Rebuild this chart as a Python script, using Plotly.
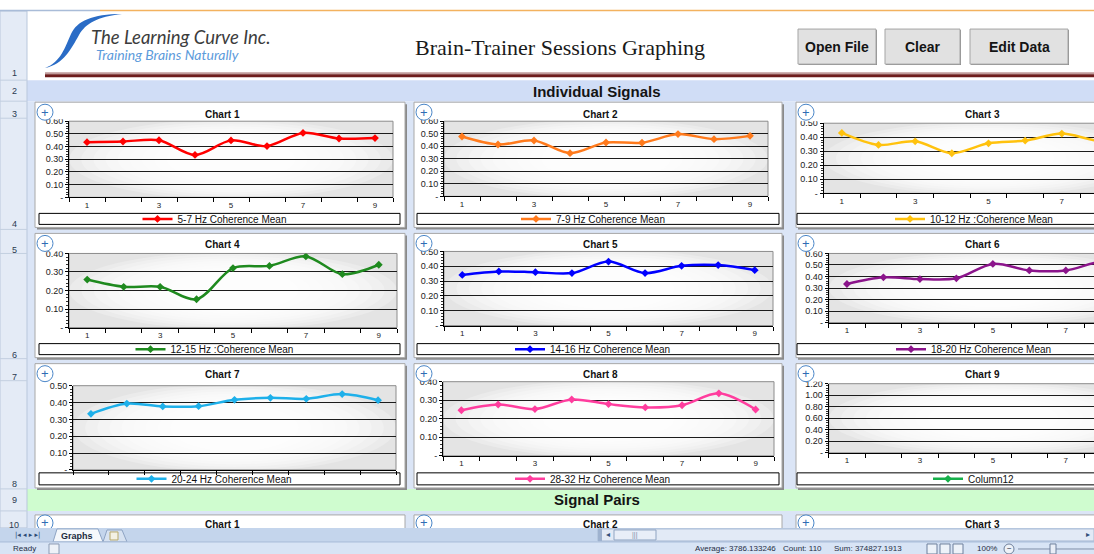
import plotly.graph_objects as go

W, H = 1094, 554
HF = 565          # rendered figure height (compensates vertical scaling of capture)
TOP_OFFSET = -5   # px

# ---------------- data ----------------
sessions = [1, 2, 3, 4, 5, 6, 7, 8, 9]
x_tick_values = [1, 3, 5, 7, 9]
x_tick_labels = ["1", "3", "5", "7", "9"]
chart_titles = ["Chart 1", "Chart 2", "Chart 3", "Chart 4", "Chart 5",
                "Chart 6", "Chart 7", "Chart 8", "Chart 9"]
series_names = ["5-7 Hz Coherence Mean", "7-9 Hz Coherence Mean",
                "10-12 Hz :Coherence Mean", "12-15 Hz :Coherence Mean",
                "14-16 Hz Coherence Mean", "18-20 Hz Coherence Mean",
                "20-24 Hz Coherence Mean", "28-32 Hz Coherence Mean",
                "Column12"]
s1 = [0.435, 0.440, 0.450, 0.334, 0.449, 0.404, 0.508, 0.464, 0.467]
s2 = [0.478, 0.414, 0.446, 0.345, 0.430, 0.428, 0.497, 0.457, 0.483]
s3 = [0.431, 0.345, 0.371, 0.286, 0.357, 0.376, 0.426, 0.375, 0.390]
s4 = [0.259, 0.220, 0.220, 0.153, 0.321, 0.333, 0.384, 0.288, 0.339]
s5 = [0.342, 0.365, 0.360, 0.354, 0.432, 0.354, 0.403, 0.408, 0.374]
s6 = [0.335, 0.393, 0.378, 0.384, 0.509, 0.453, 0.453, 0.530, 0.500]
s7 = [0.333, 0.394, 0.377, 0.378, 0.416, 0.428, 0.422, 0.450, 0.414]
s8 = [0.246, 0.277, 0.252, 0.304, 0.279, 0.261, 0.273, 0.337, 0.250]
s9 = [None, None, None, None, None, None, None, None, None]  # Column12: blank cells
series_values = [s1, s2, s3, s4, s5, s6, s7, s8, s9]
y_max = [0.6, 0.6, 0.5, 0.4, 0.5, 0.6, 0.5, 0.4, 1.2]
y_step = [0.1, 0.1, 0.1, 0.1, 0.1, 0.1, 0.1, 0.1, 0.2]
row_numbers = ["1", "2", "3", "4", "5", "6", "7", "8", "9", "10"]
status_items = ["Average: 3786.133246", "Count: 110", "Sum: 374827.1913"]

# ---------------- styles / geometry ----------------
FONT = "Liberation Sans, Arial, sans-serif"
colors = ["#ff0000", "#ff7a1c", "#ffc20e", "#1f8a1f", "#0000ff",
          "#8b148b", "#1eb0ea", "#ff3d9e", "#16b04a"]

col_box = [(35, 405), (414, 782), (796, 1164)]
row_box = [(102, 227), (233, 357), (363, 487)]
legend_y = [(213, 224), (343, 354), (472, 484)]
legend_x = [(39, 400), (417, 779), (797, 1161)]
title_y = [114, 244, 374]
plot_areas = [
    (69, 393, 121, 197), (444, 768, 121, 196), (823.5, 1153.5, 123, 193),
    (69, 397, 253, 327), (444, 773, 251, 325), (828.7, 1157, 253, 322),
    (73, 396, 385, 469), (443, 774, 381, 455), (828.7, 1157, 383, 452),
]
show_x = [True, True, True, True, True, True, False, True, True]
cut_top = [True, True, True, True, True, True, False, True, True]


def PX(x):
    return x / W


def PY(y):
    return 1 - y / H


shapes = []
annotations = []


def rect(x0, y0, x1, y1, fill, line=None, lw=0, layer="below", opacity=1):
    shapes.append(dict(type="rect", xref="paper", yref="paper",
                       x0=PX(x0), x1=PX(x1), y0=PY(y1), y1=PY(y0),
                       fillcolor=fill, opacity=opacity,
                       line=dict(color=line or "rgba(0,0,0,0)", width=lw),
                       layer=layer))


def ellipse(x0, y0, x1, y1, fill, opacity=1, layer="below", line=None, lw=0):
    shapes.append(dict(type="circle", xref="paper", yref="paper",
                       x0=PX(x0), x1=PX(x1), y0=PY(y1), y1=PY(y0),
                       fillcolor=fill, opacity=opacity,
                       line=dict(color=line or "rgba(0,0,0,0)", width=lw),
                       layer=layer))


def path(points, fill, layer="below", line=None, lw=0):
    s = ""
    for cmd, pts in points:
        s += cmd + " " + " ".join(f"{PX(x):.5f},{PY(y):.5f}" for x, y in pts) + " "
    s += "Z"
    shapes.append(dict(type="path", xref="paper", yref="paper", path=s,
                       fillcolor=fill, line=dict(color=line or "rgba(0,0,0,0)", width=lw),
                       layer=layer))


def hline(x0, x1, y, color, lw=1, layer="below"):
    shapes.append(dict(type="line", xref="paper", yref="paper",
                       x0=PX(x0), x1=PX(x1), y0=PY(y), y1=PY(y),
                       line=dict(color=color, width=lw), layer=layer))


def text(x, y, s, size, color="#111", family=FONT, xanchor="center", bold=False):
    if bold:
        s = f"<b>{s}</b>"
    annotations.append(dict(xref="paper", yref="paper", x=PX(x), y=PY(y), text=s,
                            showarrow=False, xanchor=xanchor, yanchor="middle",
                            font=dict(size=size, color=color, family=family)))


# ---------------- sheet background ----------------
rect(0, -10, W, 11, "#ffffff")
rect(27, 11, W, 80, "#ffffff")
rect(27, 80, W, 101, "#d0ddf6")
rect(27, 101, W, 488, "#dbe5f6")
rect(27, 488, W, 510, "#cffccf")
rect(27, 510, W, 527, "#dbe5f6")
rect(0, 11, 27, 527, "#e4ebf6", line="#b9c7dc", lw=1)
for yb in [80, 101, 118, 229, 253, 358, 380, 488, 510]:
    hline(0, 27, yb, "#c3cfe0")
row_label_y = [73, 91, 114, 224, 250, 354, 376, 483, 499, 524]
for lab, yy in zip(row_numbers, row_label_y):
    text(14, yy, lab, 9, "#2b3a50")
hline(0, 100, 10.5, "#a9bcd8", 1.5)
hline(100, W, 10.5, "#f3b25f", 1.5)
path([("M", [(45, 68)]), ("C", [(61, 62), (65, 47), (71, 34)]),
      ("C", [(77, 21), (92, 14), (122, 14)]),
      ("C", [(97, 17), (86, 23), (79, 35)]),
      ("C", [(71, 49), (64, 64), (45, 68)])], "#2a6cc6")
text(89, 37, "<i>The Learning Curve Inc.</i>", 18.5, "#3c3c3c", family="Lato", xanchor="left")
text(94, 54, "<i>Training Brains Naturally</i>", 14, "#5c9bdb", family="Lato", xanchor="left")
rect(45, 72, W, 74, "#bf9a9a")
rect(45, 74, W, 77, "#6d1c1c")
text(560, 47, "Brain-Trainer Sessions Graphing", 22, "#1a1a1a",
     family="Liberation Serif, Times New Roman, serif")
for (bx0, bx1, lab) in [(798, 876, "Open File"), (885, 960, "Clear"), (970, 1068, "Edit Data")]:
    rect(bx0 + 1, 30, bx1 + 1, 65, "#8f8f8f")
    rect(bx0, 29, bx1, 64, "#e1e1e1", line="#a5a5a5", lw=1)
    text((bx0 + bx1) / 2, 47, lab, 14, "#141414", bold=True)
text(597, 91, "Individual Signals", 15, "#141414", bold=True)
text(597, 499, "Signal Pairs", 15, "#141414", bold=True)

# ---------------- charts ----------------
fig = go.Figure()
layout_axes = {}
legends = {}

for i in range(9):
    k = i + 1
    r, c = divmod(i, 3)
    bx0, bx1 = col_box[c]
    by0, by1 = row_box[r]
    rect(bx0 + 2, by0 + 2, bx1 + 2, by1 + 2, "#8a8a8a")
    rect(bx0, by0, bx1, by1, "#ffffff", line="#a8a8a8", lw=1)
    px0, px1, py0, py1 = plot_areas[i]
    rect(px0, py0, px1, py1, "#e4e4e4")
    for j in range(9):
        f = 1 - j * 0.075
        cx, cy = (px0 + px1) / 2, (py0 + py1) / 2
        hw, hh = (px1 - px0) / 2 * f, (py1 - py0) / 2 * (1.05 - j * 0.06)
        ellipse(cx - hw, cy - hh, cx + hw, cy + hh, "#ffffff", opacity=0.25)
    rect(px0, py0, px1, py1, "rgba(0,0,0,0)", line="#8c8c8c", lw=1)
    lx0, lx1 = legend_x[c]
    ly0, ly1 = legend_y[r]
    rect(lx0, ly0, lx1, ly1, "#ffffff", line="#000000", lw=1)
    text((bx0 + bx1) / 2 + 2, title_y[r], chart_titles[i], 10, "#111", bold=True)

    if px1 > W:
        xr_end = 0.5 + 9 * (W - px0) / (px1 - px0)
        dx1 = 1.0
    else:
        xr_end = 9.5
        dx1 = px1 / W
    ym, st = y_max[i], y_step[i]
    nt = int(round(ym / st))
    yvals = [round(j * st, 2) for j in range(nt + 1)]
    ytext = ["-"] + [f"{v:.2f}" for v in yvals[1:]]
    xk = "xaxis" if k == 1 else f"xaxis{k}"
    yk = "yaxis" if k == 1 else f"yaxis{k}"
    layout_axes[xk] = dict(
        domain=[px0 / W, dx1], range=[0.5, xr_end], anchor=f"y{k}",
        showgrid=False, zeroline=False, showline=True, linecolor="#000", linewidth=1,
        tickmode="array", tickvals=x_tick_values, ticktext=x_tick_labels, ticks="",
        showticklabels=show_x[i], tickfont=dict(size=8, family=FONT, color="#222"),
        minor=dict(tickmode="array", tickvals=[0.5 + j for j in range(10)],
                   ticks="outside", ticklen=4, tickcolor="#000", tickwidth=1, showgrid=False),
        fixedrange=True)
    layout_axes[yk] = dict(
        domain=[1 - py1 / H, 1 - py0 / H], range=[0, ym], anchor=f"x{k}",
        showgrid=True, gridcolor="#1c1c1c", gridwidth=1, zeroline=False,
        showline=True, linecolor="#000", linewidth=1,
        tickmode="array", tickvals=yvals, ticktext=ytext, ticks="outside", ticklen=3,
        tickcolor="#000", tickfont=dict(size=9, family=FONT, color="#1a1a1a"),
        minor=dict(tick0=0, dtick=st / 5, ticks="outside", ticklen=2, tickcolor="#333",
                   showgrid=False),
        fixedrange=True)

    lg = "legend" if k == 1 else f"legend{k}"
    fig.add_trace(go.Scatter(
        x=sessions, y=series_values[i], name=series_names[i], mode="lines+markers",
        line=dict(color=colors[i], width=2.5, shape="spline", smoothing=0.9),
        marker=dict(symbol="diamond", size=6, color=colors[i]),
        xaxis=f"x{k}", yaxis=f"y{k}", legend=lg, showlegend=True))
    legends[lg] = dict(visible=True, x=PX((lx0 + lx1) / 2 - 5), y=PY((ly0 + ly1) / 2),
                       xref="paper", yref="paper",
                       xanchor="center", yanchor="middle", orientation="h",
                       bgcolor="rgba(0,0,0,0)", borderwidth=0,
                       font=dict(size=10, family=FONT, color="#111"),
                       itemwidth=30, tracegroupgap=0)

    if cut_top[i]:
        rect(bx0 + 2, by0 + 2, px0 - 3, py0 - 2, "#ffffff", layer="above")
    cx, cy = bx0 + 10, by0 + 10
    ellipse(cx - 8, cy - 8, cx + 8, cy + 8, "#ffffff", layer="above", line="#4a86c8", lw=1)
    text(cx, cy, "+", 13, "#2f6db5")

for c, lab in enumerate(["Chart 1", "Chart 2", "Chart 3"]):
    bx0, bx1 = col_box[c]
    rect(bx0, 514, bx1, 530, "#ffffff", line="#a8a8a8", lw=1)
    text((bx0 + bx1) / 2 + 2, 524, lab, 10, "#111", bold=True)
    cx, cy = bx0 + 10, 522
    ellipse(cx - 8, cy - 8, cx + 8, cy + 8, "#ffffff", layer="above", line="#4a86c8", lw=1)
    text(cx, cy, "+", 13, "#2f6db5")

# ---------------- sheet tabs / status bar ----------------
rect(0, 527, W, 541, "#c4d5ec", layer="above")
text(27, 534, "|◂ ◂ ▸ ▸|", 7, "#2b4a75", family="DejaVu Sans")
shapes.append(dict(type="path", xref="paper", yref="paper",
                   path=f"M {PX(53)},{PY(541)} L {PX(57)},{PY(528)} L {PX(98)},{PY(528)} L {PX(103)},{PY(541)} Z",
                   fillcolor="#f5f8fc", line=dict(color="#8ea4c4", width=1), layer="above"))
text(77, 535, "Graphs", 9, "#1a2a40", bold=True)
shapes.append(dict(type="path", xref="paper", yref="paper",
                   path=f"M {PX(103)},{PY(541)} L {PX(107)},{PY(529)} L {PX(122)},{PY(529)} L {PX(127)},{PY(541)} Z",
                   fillcolor="#d7e2f1", line=dict(color="#8ea4c4", width=1), layer="above"))
rect(110, 531, 118, 539, "#f3f1e4", line="#b7a86a", lw=1, layer="above")
rect(598, 528, W, 540, "#e2eaf6", line="#a9bad3", lw=1, layer="above")
rect(598, 528, 602, 540, "#9eb2cf", layer="above")
text(608, 534, "◂", 8, "#33507a", family="DejaVu Sans")
rect(614, 529, 656, 539, "#e8eef8", line="#8fa4c2", lw=1, layer="above")
text(635, 534, "|||", 7, "#7a8ca8")
text(1088, 534, "▸", 8, "#33507a", family="DejaVu Sans")
rect(0, 541, W, H + 12, "#d8e4f5", layer="above")
hline(0, W, 541, "#a9bcd8", 1, layer="above")
text(11, 548, "Ready", 8, "#1f2d44", xanchor="left")
rect(49, 543, 59, 553, "#eef2f8", line="#8a9ab3", lw=1, layer="above")
for xx, s in zip([693, 781, 832], status_items):
    text(xx, 548, s, 8, "#1f2d44", xanchor="left")
for xx in [927, 940, 953]:
    rect(xx, 543, xx + 10, 553, "#edf2f9", line="#6d7f9c", lw=1, layer="above")
text(975, 548, "100%", 8, "#1f2d44", xanchor="left")
ellipse(1004, 543, 1014, 553, "#eef2f8", layer="above", line="#6d7f9c", lw=1)
text(1009, 548, "−", 8, "#1f2d44")
hline(1018, W, 548, "#7f8fa8", 1, layer="above")
rect(1050, 543, 1056, 553, "#e9eef7", line="#6d7f9c", lw=1, layer="above")

fig.update_layout(
    width=W, height=HF, margin=dict(l=0, r=0, t=0, b=0),
    paper_bgcolor="#ffffff", plot_bgcolor="rgba(0,0,0,0)",
    showlegend=True,
    shapes=shapes, annotations=annotations,
    hovermode=False, **layout_axes, **legends)

fig.write_html(
    "out.html",
    config={"displayModeBar": False, "staticPlot": True},
    post_script="var d=document.getElementById('{plot_id}');"
                "document.body.style.margin='0px';"
                "d.style.position='fixed';d.style.left='0px';d.style.top='" + str(TOP_OFFSET) + "px';")
